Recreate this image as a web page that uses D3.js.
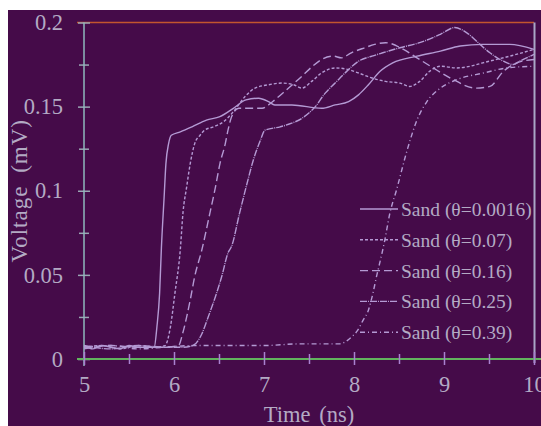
<!DOCTYPE html>
<html>
<head>
<meta charset="utf-8">
<script src="https://cdn.jsdelivr.net/npm/d3@7"></script>
<style>
  body { margin: 0; background: #ffffff; }
  text { font-family: "Liberation Serif", "DejaVu Serif", serif; fill: #b3aac4; }
</style>
</head>
<body>
<div id="chart"></div>
<script>
//Figure size
var svgWidth = 541;
var svgHeight = 426;

// data: [time (ns), voltage (mV)]
var sand0016 = [[5.0,0.008],[5.1,0.006],[5.2,0.008],[5.3,0.007],[5.4,0.006],[5.5,0.008],[5.6,0.007],[5.7,0.007],[5.78,0.007],
    [5.81,0.019],[5.84,0.039],[5.86,0.066],[5.89,0.096],[5.91,0.116],[5.94,0.128],[5.97,0.133],[6.07,0.135],[6.2,0.138],
    [6.36,0.142],[6.51,0.144],[6.66,0.149],[6.8,0.154],[6.94,0.155],[7.05,0.153],[7.12,0.151],[7.31,0.151],[7.64,0.149],
    [7.79,0.151],[7.94,0.153],[8.05,0.157],[8.16,0.163],[8.29,0.171],[8.43,0.176],[8.7,0.18],[8.96,0.183],[9.18,0.186],
    [9.43,0.187],[9.73,0.187],[10,0.184]];
var sand007 = [[5.0,0.007],[5.2,0.008],[5.4,0.006],[5.6,0.008],[5.8,0.007],[5.9,0.008],[5.96,0.019],[6.01,0.039],[6.07,0.065],
    [6.1,0.087],[6.14,0.102],[6.18,0.116],[6.23,0.128],[6.29,0.133],[6.34,0.136],[6.44,0.138],[6.55,0.141],[6.66,0.147],
    [6.79,0.156],[6.9,0.161],[7.05,0.163],[7.2,0.164],[7.33,0.163],[7.42,0.161],[7.53,0.165],[7.64,0.17],[7.79,0.173],
    [7.94,0.172],[8.05,0.17],[8.2,0.167],[8.35,0.165],[8.51,0.164],[8.62,0.162],[8.73,0.165],[8.84,0.171],[8.96,0.174],
    [9.14,0.173],[9.29,0.174],[9.43,0.176],[9.73,0.18],[10,0.184]];
var sand016 = [[5.0,0.006],[5.3,0.008],[5.6,0.007],[5.9,0.007],[6.05,0.008],[6.1,0.016],[6.18,0.035],[6.23,0.049],[6.31,0.065],
    [6.4,0.087],[6.46,0.102],[6.51,0.116],[6.57,0.128],[6.6,0.136],[6.64,0.144],[6.72,0.149],[6.85,0.149],[6.98,0.149],
    [7.05,0.151],[7.12,0.154],[7.25,0.16],[7.42,0.168],[7.54,0.174],[7.64,0.178],[7.77,0.18],[7.86,0.179],[7.97,0.182],
    [8.12,0.185],[8.23,0.187],[8.35,0.188],[8.55,0.184],[8.7,0.179],[8.88,0.173],[9.07,0.167],[9.36,0.161],[9.51,0.162],
    [9.66,0.171],[9.81,0.176],[10,0.178]];
var sand025 = [[5.0,0.008],[5.3,0.006],[5.6,0.008],[5.9,0.007],[6.1,0.007],[6.21,0.008],[6.31,0.015],[6.38,0.025],[6.46,0.037],
    [6.53,0.049],[6.6,0.063],[6.64,0.067],[6.73,0.087],[6.81,0.104],[6.88,0.118],[6.96,0.13],[7.01,0.136],[7.18,0.138],
    [7.3,0.14],[7.42,0.143],[7.57,0.15],[7.68,0.158],[7.79,0.164],[7.9,0.17],[8.05,0.177],[8.2,0.18],[8.32,0.182],
    [8.51,0.185],[8.73,0.188],[8.96,0.193],[9.12,0.197],[9.25,0.194],[9.4,0.187],[9.51,0.182],[9.66,0.177],[9.77,0.175],
    [9.84,0.177],[10,0.181]];
var sand039 = [[5.0,0.007],[5.3,0.008],[5.6,0.006],[5.9,0.007],[6.2,0.008],[6.6,0.008],[7.0,0.008],[7.4,0.009],[7.84,0.009],
    [7.96,0.0125],[8.04,0.017],[8.1,0.023],[8.16,0.029],[8.21,0.039],[8.25,0.049],[8.29,0.058],[8.34,0.07],[8.4,0.087],
    [8.47,0.1],[8.59,0.124],[8.7,0.142],[8.81,0.153],[8.96,0.161],[9.14,0.166],[9.44,0.17],[9.7,0.173],[10,0.174]];

var seriesNames = ["Sand (\u03b8=0.0016)", "Sand (\u03b8=0.07)", "Sand (\u03b8=0.16)", "Sand (\u03b8=0.25)", "Sand (\u03b8=0.39)"];
var seriesData = [sand0016, sand007, sand016, sand025, sand039];
var seriesDash = ["none", "3,2", "8,4", "7,1,1,1", "5,3,1,3"];

var xTicks = [5, 6, 7, 8, 9, 10];
var xMinor = [5.5, 6.5, 7.5, 8.5, 9.5];
var yTicks = [0, 0.05, 0.1, 0.15, 0.2];
var yMinor = [0.025, 0.075, 0.125, 0.175];

var svg = d3.select("#chart")
    .append("svg")
    .attr("width", svgWidth)
    .attr("height", svgHeight);

// purple panel (white strip left and top)
svg.append("rect")
    .attr("x", 8)
    .attr("y", 10)
    .attr("width", svgWidth - 8)
    .attr("height", svgHeight - 10)
    .attr("fill", "#450b49");

var xScale = d3.scaleLinear().domain([5, 10]).range([84, 534]);
var yScale = d3.scaleLinear().domain([0, 0.2]).range([359, 22.5]);

// top and right frame
svg.append("line")
    .attr("x1", 77).attr("x2", 534)
    .attr("y1", yScale(0.2)).attr("y2", yScale(0.2))
    .attr("stroke", "#c2562e").attr("stroke-width", 1.5);
svg.append("line")
    .attr("x1", 534.5).attr("x2", 534.5)
    .attr("y1", yScale(0.2)).attr("y2", yScale(0) + 4)
    .attr("stroke", "#a9a6c6").attr("stroke-width", 2);

// y axis
var yAxis = svg.append("g")
    .attr("transform", "translate(84,0)")
    .call(d3.axisLeft(yScale).tickValues(yTicks).tickSize(6).tickSizeOuter(0).tickPadding(15)
        .tickFormat(function(d) { return String(d); }));
yAxis.selectAll(".tick line").attr("x1", 6).attr("stroke", "#9aa6b4").attr("stroke-width", 1.5);
yAxis.selectAll("text").attr("font-size", "22.5px").style("fill", "#b3aac4");
yAxis.select(".domain").remove();

var yMinorAxis = svg.append("g")
    .attr("transform", "translate(84,0)")
    .call(d3.axisLeft(yScale).tickValues(yMinor).tickSize(5).tickFormat(""));
yMinorAxis.selectAll(".tick line").attr("x1", 5).attr("stroke", "#9aa6b4").attr("stroke-width", 1.5);
yMinorAxis.select(".domain").remove();

svg.append("line")
    .attr("x1", 84).attr("x2", 84)
    .attr("y1", yScale(0.2)).attr("y2", yScale(0) + 7)
    .attr("stroke", "#8fb8bc").attr("stroke-width", 1.5);

// x axis
svg.append("line")
    .attr("x1", 77).attr("x2", svgWidth)
    .attr("y1", yScale(0)).attr("y2", yScale(0))
    .attr("stroke", "#62b35e").attr("stroke-width", 2);

var xAxis = svg.append("g")
    .attr("transform", `translate(0,${yScale(0)})`)
    .call(d3.axisBottom(xScale).tickValues(xTicks).tickSize(6).tickSizeOuter(0).tickPadding(11)
        .tickFormat(d3.format("d")));
xAxis.selectAll(".tick line").attr("y1", -7).attr("stroke", "#a982d0").attr("stroke-width", 1.5);
xAxis.selectAll("text").attr("font-size", "22.5px").style("fill", "#b3aac4");
xAxis.select(".domain").remove();

var xMinorAxis = svg.append("g")
    .attr("transform", `translate(0,${yScale(0)})`)
    .call(d3.axisBottom(xScale).tickValues(xMinor).tickSize(5).tickFormat(""));
xMinorAxis.selectAll(".tick line").attr("y1", -5).attr("stroke", "#a982d0").attr("stroke-width", 1.5);
xMinorAxis.select(".domain").remove();

// axis titles
svg.append("text")
    .attr("x", xScale(7.5))
    .attr("y", 422)
    .attr("text-anchor", "middle")
    .attr("font-size", "22.5px")
    .attr("word-spacing", "3px")
    .text("Time (ns)");

svg.append("text")
    .attr("transform", `translate(27,${yScale(0.1)}) rotate(-90)`)
    .attr("text-anchor", "middle")
    .attr("font-size", "23px")
    .attr("word-spacing", "6px")
    .attr("letter-spacing", "1px")
    .text("Voltage (mV)");

// curves
var line = d3.line()
    .x(d => xScale(d[0]))
    .y(d => yScale(d[1]))
    .curve(d3.curveMonotoneX);

svg.append("g").selectAll("path")
    .data(seriesData)
    .enter()
    .append("path")
    .attr("d", line)
    .attr("fill", "none")
    .attr("stroke", "#b49ad4")
    .attr("stroke-width", 1.4)
    .attr("stroke-dasharray", (d, i) => seriesDash[i]);

// legend
var legend = svg.append("g");
var rows = legend.selectAll("g")
    .data(seriesNames)
    .enter()
    .append("g")
    .attr("transform", (d, i) => `translate(360,${209 + i * 30.8})`);

rows.append("line")
    .attr("x1", 0).attr("x2", 38)
    .attr("y1", 0).attr("y2", 0)
    .attr("stroke", "#b49ad4")
    .attr("stroke-width", 1.4)
    .attr("stroke-dasharray", (d, i) => seriesDash[i]);

rows.append("text")
    .attr("x", 41)
    .attr("y", 7)
    .attr("font-size", "19.5px")
    .text(d => d);
</script>
</body>
</html>
